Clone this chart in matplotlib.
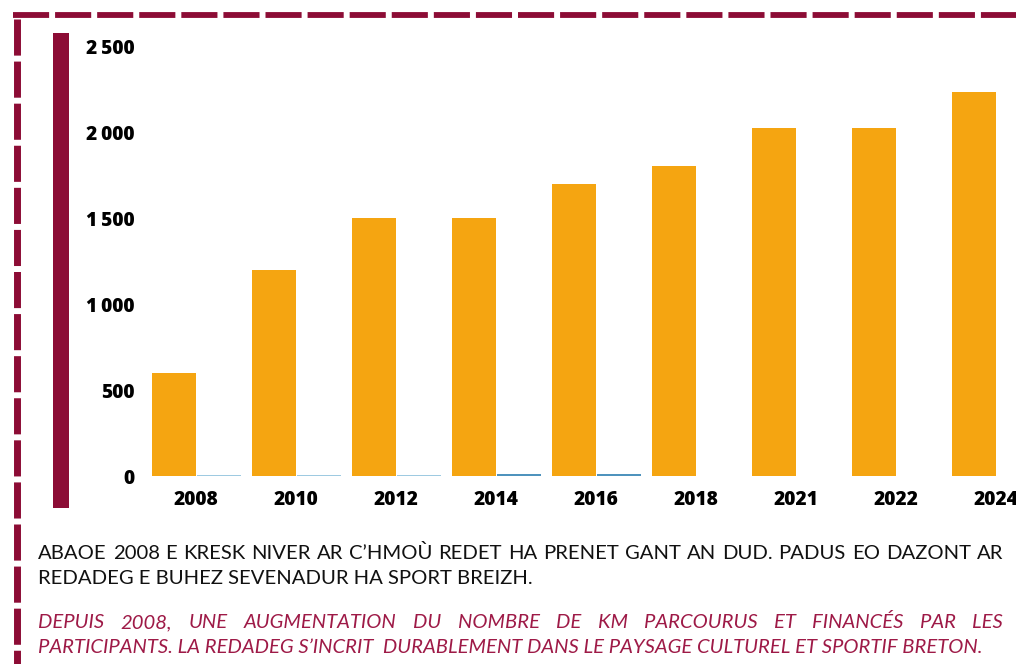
import matplotlib
matplotlib.use('Agg')
import matplotlib.pyplot as plt
from matplotlib.lines import Line2D
from matplotlib.patches import Rectangle
import numpy as np

plt.rcParams['lines.scale_dashes'] = False

# data
years = ['2008', '2010', '2012', '2014', '2016', '2018', '2021', '2022', '2024']
km = [600, 1200, 1500, 1500, 1700, 1800, 2025, 2025, 2230]
other = [8, 8, 8, 10, 10, 0, 0, 0, 0]
other_colors = ['#9ecae1', '#9ecae1', '#9ecae1', '#4f93bd', '#4f93bd',
                '#9ecae1', '#9ecae1', '#9ecae1', '#9ecae1']
yticks = [0, 500, 1000, 1500, 2000, 2500]
ytick_labels = ['0', '500', '1\u2009000', '1\u2009500', '2\u2009000', '2\u2009500']

text_br = ["ABAOE 2008 E KRESK NIVER AR C\u2019HMOÙ REDET HA PRENET GANT AN DUD. PADUS EO DAZONT AR",
           "REDADEG E BUHEZ SEVENADUR HA SPORT BREIZH."]
text_fr = ["DEPUIS 2008, UNE AUGMENTATION DU NOMBRE DE KM PARCOURUS ET FINANCÉS PAR LES",
           "PARTICIPANTS. LA REDADEG S\u2019INCRIT  DURABLEMENT DANS LE PAYSAGE CULTUREL ET SPORTIF BRETON."]

W, H = 1016, 664
crimson = '#8c0c35'
orange = '#f5a511'

fig = plt.figure(figsize=(W / 100, H / 100), dpi=100)
fig.patch.set_facecolor('white')

# axes in pixel terms: x categories at 196 + 100*i, y 0 -> 476px, 2500 -> 46px
ax = fig.add_axes([146 / W, 1 - 476 / H, 900 / W, 430 / H])
x = np.arange(len(years))
ax.bar(x - 0.225, km, width=0.44, color=orange, zorder=2)
ax.bar(x + 0.225, other, width=0.44, color=other_colors, zorder=2)
ax.set_xlim(-0.5, len(years) - 0.5)
ax.set_ylim(0, 2500)
ax.set_yticks(yticks)
ax.set_yticklabels(ytick_labels)
ax.set_xticks(x)
ax.set_xticklabels(years)
for s in ax.spines.values():
    s.set_visible(False)
ax.tick_params(length=0)
ax.tick_params(axis='y', pad=8)
ax.tick_params(axis='x', pad=10)
for lab in ax.get_xticklabels() + ax.get_yticklabels():
    lab.set_family(['Open Sans', 'DejaVu Sans'])
    lab.set_fontweight('heavy')
    lab.set_fontsize(13.8)
    lab.set_color('black')

# dashed frame (top and left)
top = Line2D([13 / W, 1.0], [1 - 14.5 / H, 1 - 14.5 / H], transform=fig.transFigure,
             color=crimson, lw=4.2, linestyle=(0, (26, 4.3)), dash_capstyle='butt')
left = Line2D([16.5 / W, 16.5 / W], [1 - 19 / H, 0], transform=fig.transFigure,
              color=crimson, lw=5, linestyle=(0, (26, 4.3)), dash_capstyle='butt')
fig.add_artist(top)
fig.add_artist(left)

# thick bar next to axis
fig.add_artist(Rectangle((53 / W, 1 - 508 / H), 16 / W, 475 / H,
                         transform=fig.transFigure, color=crimson, lw=0))

renderer = fig.canvas.get_renderer()


def put_line(text, x0, x1, y, justify, **kw):
    if not justify:
        fig.text(x0 / W, 1 - y / H, text, va='baseline', ha='left', **kw)
        return
    words = text.split()
    arts = [fig.text(0, 1 - y / H, w, va='baseline', ha='left', **kw) for w in words]
    widths = [a.get_window_extent(renderer).width for a in arts]
    gap = (x1 - x0 - sum(widths)) / (len(words) - 1)
    xx = x0
    for a, w in zip(arts, widths):
        a.set_x(xx / W)
        xx += w + gap


kw_br = dict(family=['Lato', 'DejaVu Sans'], fontsize=14.6, color='#111111')
kw_fr = dict(family=['Lato', 'DejaVu Sans'], fontsize=14.6, color='#9e1a47', style='italic')
put_line(text_br[0], 38, 1003, 559, True, **kw_br)
put_line(text_br[1], 38, 1003, 584, False, **kw_br)
put_line(text_fr[0], 38, 1003, 628, True, **kw_fr)
put_line(text_fr[1], 38, 1003, 653, False, **kw_fr)

fig.savefig('out.png', dpi=100)
